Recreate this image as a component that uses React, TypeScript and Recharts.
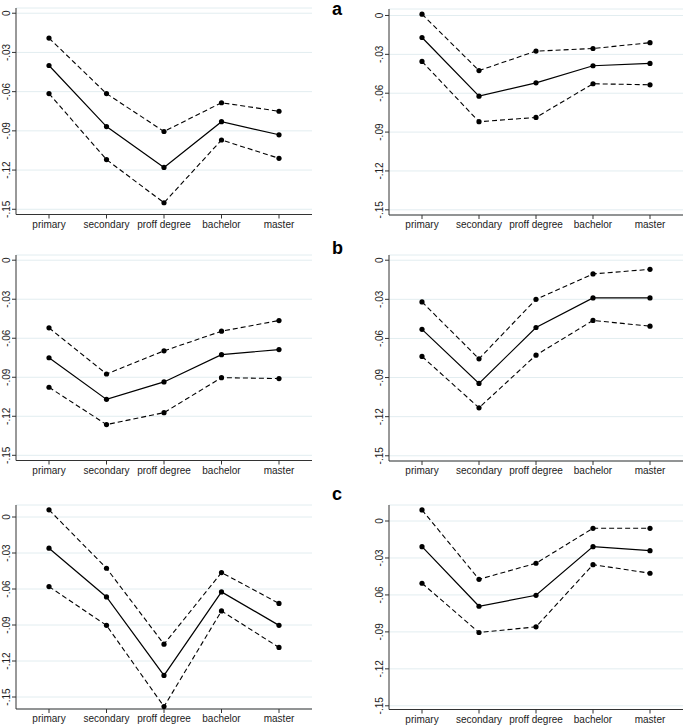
import React from "react";
import { LineChart, Line, XAxis, YAxis, CartesianGrid } from "recharts";

const categories = ["primary", "secondary", "proff degree", "bachelor", "master"];
const yTicks = [0, -0.03, -0.06, -0.09, -0.12, -0.15];

// panel a, left
const aLeftUpper = [-0.019, -0.0615, -0.0905, -0.0685, -0.075];
const aLeftEst = [-0.04, -0.0867, -0.118, -0.083, -0.093];
const aLeftLower = [-0.0615, -0.112, -0.145, -0.097, -0.111];

// panel a, right
const aRightUpper = [0.001, -0.0425, -0.0275, -0.0255, -0.021];
const aRightEst = [-0.017, -0.0623, -0.052, -0.0388, -0.037];
const aRightLower = [-0.0355, -0.082, -0.0787, -0.0527, -0.0535];

// panel b, left
const bLeftUpper = [-0.052, -0.0875, -0.0697, -0.0546, -0.0464];
const bLeftEst = [-0.075, -0.107, -0.0936, -0.0726, -0.0687];
const bLeftLower = [-0.0977, -0.1264, -0.1172, -0.0903, -0.091];

// panel b, right
const bRightUpper = [-0.032, -0.0756, -0.03, -0.0105, -0.007];
const bRightEst = [-0.053, -0.0945, -0.0516, -0.0289, -0.0289];
const bRightLower = [-0.0738, -0.1132, -0.0728, -0.0462, -0.0506];

// panel c, left
const cLeftUpper = [0.006, -0.0427, -0.106, -0.0463, -0.072];
const cLeftEst = [-0.026, -0.0666, -0.132, -0.0624, -0.0903];
const cLeftLower = [-0.058, -0.0903, -0.158, -0.0783, -0.1087];

// panel c, right
const cRightUpper = [0.009, -0.0473, -0.0343, -0.0059, -0.0059];
const cRightEst = [-0.0208, -0.0692, -0.0603, -0.0208, -0.0241];
const cRightLower = [-0.0505, -0.0905, -0.0859, -0.0354, -0.0424];

const FONT = "'Liberation Sans', Arial, sans-serif";

type PanelCfg = {
  upper: number[];
  est: number[];
  lower: number[];
  left: number;
  width: number;
  plotTop: number;
  plotBottom: number;
  domain: [number, number];
};

const PANELS: PanelCfg[] = [
  { upper: aLeftUpper, est: aLeftEst, lower: aLeftLower, left: 0, width: 312, plotTop: 8, plotBottom: 214.5, domain: [-0.154, 0.004] },
  { upper: aRightUpper, est: aRightEst, lower: aRightLower, left: 373, width: 310, plotTop: 8.5, plotBottom: 214.5, domain: [-0.154, 0.005] },
  { upper: bLeftUpper, est: bLeftEst, lower: bLeftLower, left: 0, width: 312, plotTop: 255, plotBottom: 460.5, domain: [-0.154, 0.004] },
  { upper: bRightUpper, est: bRightEst, lower: bRightLower, left: 373, width: 310, plotTop: 255, plotBottom: 461, domain: [-0.154, 0.004] },
  { upper: cLeftUpper, est: cLeftEst, lower: cLeftLower, left: 0, width: 312, plotTop: 505, plotBottom: 709, domain: [-0.16, 0.01] },
  { upper: cRightUpper, est: cRightEst, lower: cRightLower, left: 373, width: 310, plotTop: 505, plotBottom: 709.5, domain: [-0.153, 0.013] },
];

const fmtY = (v: number) =>
  v === 0 ? "0" : "-" + Math.abs(v).toFixed(2).replace(/^0/, "");

function YTick(props: any) {
  const { x, y, payload } = props;
  return (
    <text
      x={x}
      y={y}
      transform={`rotate(-90 ${x} ${y})`}
      textAnchor="middle"
      fontSize={10}
      fontFamily={FONT}
      fill="#222"
    >
      {fmtY(payload.value)}
    </text>
  );
}

const MARGIN_TOP = 4;
const X_AXIS_H = 24;

function Panel({ cfg }: { cfg: PanelCfg }) {
  const data = categories.map((c, i) => ({
    cat: c,
    upper: cfg.upper[i],
    est: cfg.est[i],
    lower: cfg.lower[i],
  }));
  const plotH = cfg.plotBottom - cfg.plotTop;
  const dot = { r: 2.6, fill: "#000", stroke: "none" };
  return (
    <div style={{ position: "absolute", left: cfg.left, top: cfg.plotTop - MARGIN_TOP }}>
      <LineChart
        width={cfg.width}
        height={MARGIN_TOP + plotH + X_AXIS_H}
        data={data}
        margin={{ top: MARGIN_TOP, right: 0, bottom: 0, left: 0 }}
      >
        <CartesianGrid vertical={false} stroke="#e2edf0" strokeWidth={1} />
        <XAxis
          dataKey="cat"
          interval={0}
          height={X_AXIS_H}
          padding={{ left: 33, right: 33 }}
          tickSize={4}
          stroke="#333"
          tick={{ fontSize: 10, fontFamily: FONT, fill: "#222" }}
        />
        <YAxis
          type="number"
          width={16}
          domain={cfg.domain}
          allowDataOverflow
          ticks={yTicks}
          tickSize={4}
          stroke="#333"
          tick={<YTick />}
        />
        <Line dataKey="upper" stroke="#000" strokeWidth={1.1} strokeDasharray="5 3" dot={dot} activeDot={false} isAnimationActive={false} />
        <Line dataKey="est" stroke="#000" strokeWidth={1.2} dot={dot} activeDot={false} isAnimationActive={false} />
        <Line dataKey="lower" stroke="#000" strokeWidth={1.1} strokeDasharray="5 3" dot={dot} activeDot={false} isAnimationActive={false} />
      </LineChart>
    </div>
  );
}

const letterStyle: React.CSSProperties = {
  position: "absolute",
  left: 332,
  fontFamily: FONT,
  fontWeight: "bold",
  fontSize: 18,
  lineHeight: "18px",
  color: "#000",
};

export default function App() {
  return (
    <div style={{ position: "absolute", left: 0, top: 0, width: 685, height: 726, background: "#fff", overflow: "hidden" }}>
      {PANELS.map((p, i) => (
        <Panel key={i} cfg={p} />
      ))}
      <div style={{ ...letterStyle, top: 0 }}>a</div>
      <div style={{ ...letterStyle, top: 239 }}>b</div>
      <div style={{ ...letterStyle, top: 485 }}>c</div>
    </div>
  );
}
